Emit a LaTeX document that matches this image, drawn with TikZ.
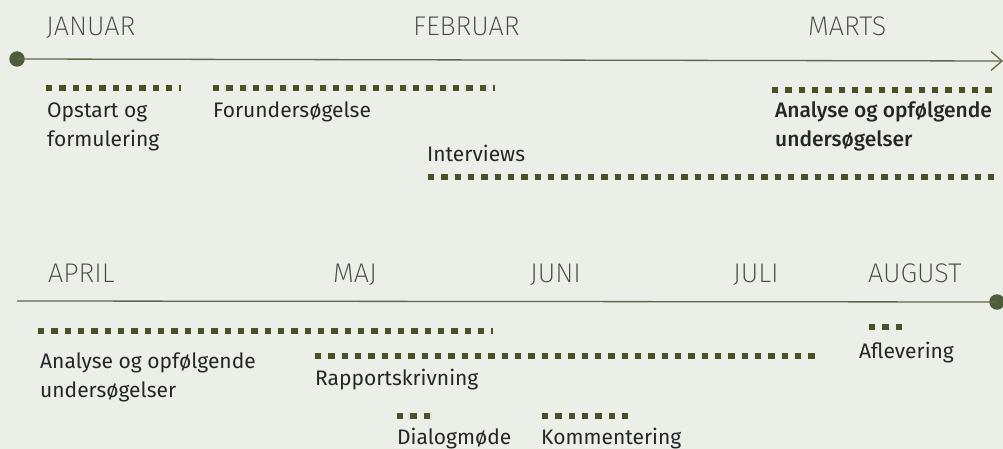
\documentclass[tikz,border=0pt]{standalone}
\usepackage{fontspec}
\setmainfont{Fira Sans}
\newfontfamily\monthfont{Fira Sans ExtraLight}
\newfontfamily\taskmedium{Fira Sans Medium}
\usetikzlibrary{arrows.meta}
\definecolor{bgcol}{RGB}{236,238,232}
\definecolor{axiscol}{RGB}{92,106,72}
\definecolor{barcol}{RGB}{73,82,38}
\definecolor{dotcol}{RGB}{80,92,58}
\definecolor{monthcol}{RGB}{70,70,70}
\definecolor{taskcol}{RGB}{38,38,38}
\tikzset{
  axisline/.style={draw=axiscol, line width=1.3pt},
  enddot/.style={circle, fill=dotcol, minimum size=15.5pt, inner sep=0pt},
  month/.style={anchor=base west, inner sep=0pt, text=monthcol, font=\monthfont\fontsize{27}{30}\selectfont},
  task/.style={anchor=base west, inner sep=0pt, text=taskcol, align=left, font=\fontsize{21}{29}\selectfont},
  taskstrong/.style={task, font=\taskmedium\fontsize{21}{29}\selectfont},
  bar/.style={draw=barcol, line width=6.3pt, dash pattern=on 6.4pt off 6.93pt}
}
\begin{document}
\begin{tikzpicture}[x=1pt,y=-1pt]
\fill[bgcol] (0,0) rectangle (1003,449);
\useasboundingbox (0,0) rectangle (1003,449);

% ---- top axis ----
\node[enddot] (startdot) at (17,59) {};
\coordinate (topend) at (1003,61);
\draw[axisline, -{Straight Barb[length=11pt, width=19pt]}] (startdot.center) -- (topend);

\node[month] (jan) at (46,36) {JANUAR};
\node[month] (feb) at (413,36) {FEBRUAR};
\node[month] (mar) at (808,36) {MARTS};

% ---- top bars ----
\coordinate (b1s) at (46,88);   \coordinate (b1e) at (181,88);
\coordinate (b2s) at (213,88);  \coordinate (b2e) at (494.5,88);
\coordinate (b3s) at (428,177); \coordinate (b3e) at (994.5,177);
\coordinate (b4s) at (772,90);  \coordinate (b4e) at (992,90);
\draw[bar] (b1s) -- (b1e);
\draw[bar] (b2s) -- (b2e);
\draw[bar] (b3s) -- (b3e);
\draw[bar] (b4s) -- (b4e);

% two-line labels: base anchor sits on the last line
\node[task] (opstart) at (47,147) {Opstart og\\formulering};
\node[task] (forund) at (213,118) {Forundersøgelse};
\node[task] (interv) at (427,162) {Interviews};
\node[taskstrong] (analyse1) at (775,147) {Analyse og opfølgende\\undersøgelser};

% ---- bottom axis ----
\coordinate (botstart) at (17,301);
\node[enddot] (enddot2) at (997,302) {};
\draw[axisline] (botstart) -- (enddot2.center);

\node[month] (apr) at (48,282) {APRIL};
\node[month] (maj) at (333,282) {MAJ};
\node[month] (jun) at (530,282) {JUNI};
\node[month] (jul) at (733,282) {JULI};
\node[month] (aug) at (868,282) {AUGUST};

% ---- bottom bars ----
\coordinate (c1s) at (38,331);  \coordinate (c1e) at (493,331);
\coordinate (c2s) at (315,356); \coordinate (c2e) at (815,356);
\coordinate (c3s) at (397,416); \coordinate (c3e) at (430.2,416);
\coordinate (c4s) at (542,416); \coordinate (c4e) at (628.5,416);
\coordinate (c5s) at (869,327); \coordinate (c5e) at (902.2,327);
\draw[bar] (c1s) -- (c1e);
\draw[bar] (c2s) -- (c2e);
\draw[bar] (c3s) -- (c3e);
\draw[bar] (c4s) -- (c4e);
\draw[bar] (c5s) -- (c5e);

\node[task] (analyse2) at (40,397) {Analyse og opfølgende\\undersøgelser};
\node[task] (rapport) at (315,385) {Rapportskrivning};
\node[task] (dialog) at (397,444) {Dialogmøde};
\node[task] (komment) at (541,444) {Kommentering};
\node[task] (aflev) at (859,358) {Aflevering};
\end{tikzpicture}
\end{document}
